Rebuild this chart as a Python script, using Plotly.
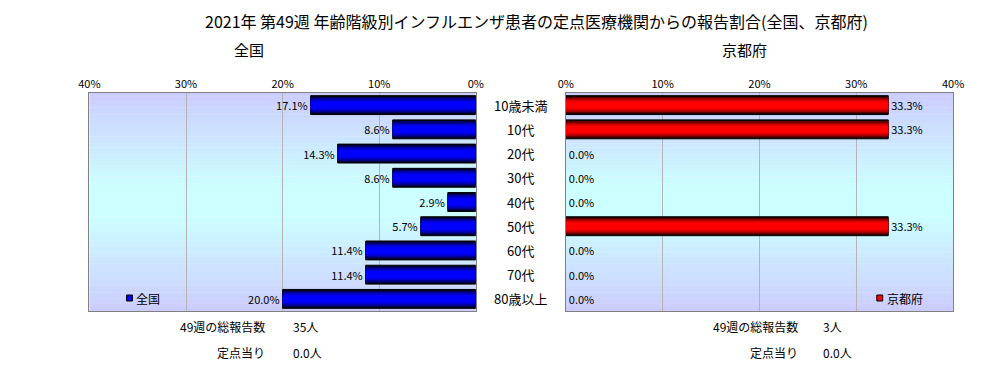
import plotly.graph_objects as go

categories = ["10歳未満", "10代", "20代", "30代", "40代", "50代", "60代", "70代", "80歳以上"]
national = [17.1, 8.6, 14.3, 8.6, 2.9, 5.7, 11.4, 11.4, 20.0]
kyoto = [33.3, 33.3, 0.0, 0.0, 0.0, 33.3, 0.0, 0.0, 0.0]
tick_vals = [0, 10, 20, 30, 40]
tick_text = ["0%", "10%", "20%", "30%", "40%"]
title_text = "2021年 第49週 年齢階級別インフルエンザ患者の定点医療機関からの報告割合(全国、京都府)"
panel_titles = ["全国", "京都府"]
summary_labels = ["49週の総報告数", "定点当り"]
national_summary = ["35人", "0.0人"]
kyoto_summary = ["3人", "0.0人"]

W, H = 1006, 365
FONT = "Noto Sans CJK JP"
OFF = 8  # page body margin compensation

def px(x):
    return (x - OFF) / W

def py(y):
    return 1 - (y - OFF) / H

L0, L1 = 80, 475
R0, R1 = 567, 963
T0, B0 = 93, 311

fig = go.Figure()

layers_w = [0.78, 0.68, 0.57, 0.45, 0.30]
blue_cols = ["#000018", "#000058", "#000098", "#0000d0", "#0000ff"]
red_cols = ["#180000", "#580000", "#a00000", "#d80000", "#ff0000"]

def add_series(values, cols, xa, ya):
    for i, (w, c) in enumerate(zip(layers_w, cols)):
        lw = [1 if (i == 0 and v > 0) else 0 for v in values]
        fig.add_trace(go.Bar(
            y=categories, x=values, orientation="h", xaxis=xa, yaxis=ya,
            width=w, marker=dict(color=c, line=dict(color="black", width=lw)),
            text=[f"{v:.1f}%" for v in values] if i == 0 else None,
            textposition="outside" if i == 0 else "none",
            textfont=dict(family=FONT, size=11, color="black"),
            cliponaxis=False, showlegend=False, hoverinfo="skip",
        ))

add_series(national, blue_cols, "x", "y")
add_series(kyoto, red_cols, "x2", "y2")

shapes = []
N = 60
for (x0, x1) in [(L0, L1), (R0, R1)]:
    for k in range(N):
        t = (k + 0.5) / N
        d = abs(t - 0.5) * 2
        g = int(round(204 + 51 * max(0.0, min(1.0, (1 - d) * 1.15))))
        y0 = T0 + (B0 - T0) * k / N
        y1 = T0 + (B0 - T0) * (k + 1) / N
        shapes.append(dict(type="rect", xref="paper", yref="paper",
                           x0=px(x0), x1=px(x1), y0=py(y1), y1=py(y0) + 0.001,
                           fillcolor=f"rgb(204,{g},255)", line=dict(width=0), layer="below"))

shapes.append(dict(type="rect", xref="paper", yref="paper", x0=px(118), x1=px(124),
                   y0=py(301), y1=py(295), fillcolor="#0000ff", line=dict(color="black", width=1)))
shapes.append(dict(type="rect", xref="paper", yref="paper", x0=px(885), x1=px(891),
                   y0=py(301), y1=py(295), fillcolor="#ff0000", line=dict(color="black", width=1)))

def ann(text, x, y, xanchor="center", size=12, yref="paper"):
    return dict(text=text, x=x, y=y, xref="paper", yref=yref, xanchor=xanchor,
                yanchor="middle", showarrow=False,
                font=dict(family=FONT, size=size, color="black"))

annotations = [
    ann(title_text, px(537), py(21), size=16),
    ann(panel_titles[0], px(243), py(50), size=15),
    ann(panel_titles[1], px(750), py(50), size=15),
]
for c in categories:
    annotations.append(ann(c, px(521), c, size=13, yref="y"))
annotations.append(ann("全国", px(126), py(298), xanchor="left", size=12))
annotations.append(ann("京都府", px(893), py(298), xanchor="left", size=12))
rows_y = [326, 352]
for j, lab in enumerate(summary_labels):
    for (xr, xv, vals) in [(262, 286, national_summary), (806, 828, kyoto_summary)]:
        annotations.append(ann(lab, px(xr), py(rows_y[j]), xanchor="right", size=12))
        annotations.append(ann(vals[j], px(xv), py(rows_y[j]), xanchor="left", size=12))

axis_common = dict(
    tickvals=tick_vals, ticktext=tick_text, side="top", showgrid=True,
    gridcolor="#b4b4b4", gridwidth=1, zeroline=False, showline=True, mirror=True,
    linecolor="#808080", linewidth=1, ticks="", ticklen=0,
    tickfont=dict(family=FONT, size=11, color="black"), fixedrange=True,
)
fig.update_layout(
    width=W, height=H, autosize=False, margin=dict(l=0, r=0, t=0, b=0),
    paper_bgcolor="white", plot_bgcolor="rgba(0,0,0,0)",
    barmode="overlay", showlegend=False,
    xaxis=dict(domain=[px(L0), px(L1)], range=[40, 0], anchor="y", **axis_common),
    xaxis2=dict(domain=[px(R0), px(R1)], range=[0, 40], anchor="y2", **axis_common),
    yaxis=dict(domain=[py(B0), py(T0)], anchor="x", autorange="reversed", showticklabels=False,
               showgrid=False, showline=True, mirror=True, linecolor="#808080", ticks="",
               fixedrange=True, zeroline=False),
    yaxis2=dict(domain=[py(B0), py(T0)], anchor="x2", autorange="reversed", showticklabels=False,
                showgrid=False, showline=True, mirror=True, linecolor="#808080", ticks="",
                fixedrange=True, zeroline=False),
    shapes=shapes, annotations=annotations,
    font=dict(family=FONT),
)

fig.write_html("out.html")
